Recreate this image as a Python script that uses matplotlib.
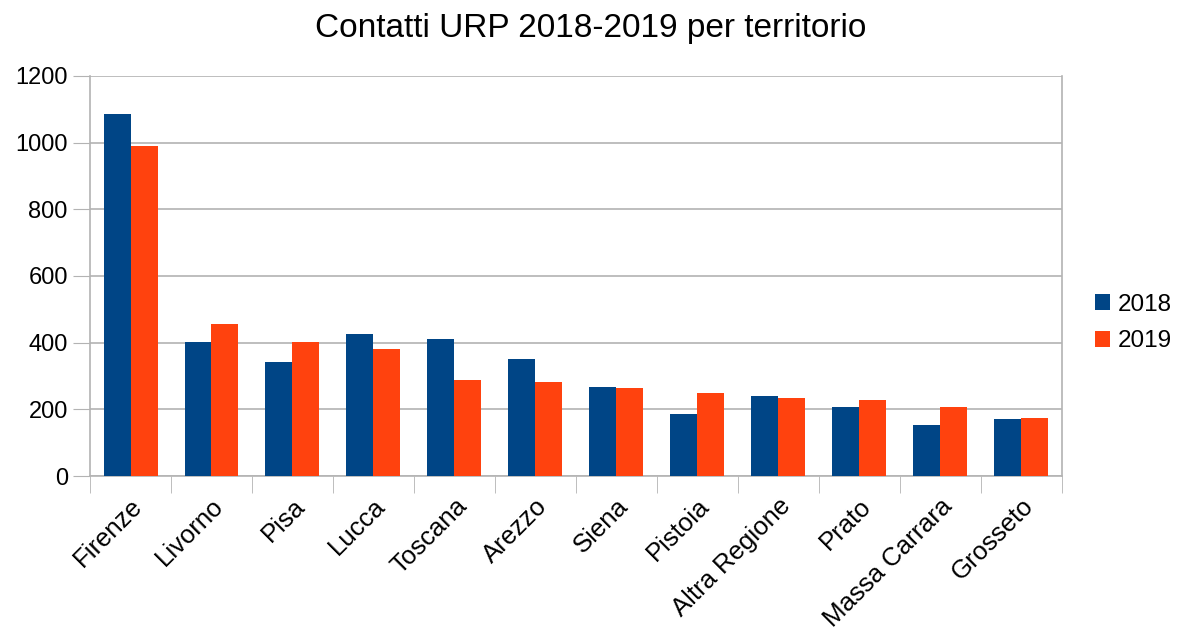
import numpy as np
import matplotlib
matplotlib.use("Agg")
import matplotlib.pyplot as plt

# Contatti per territorio, anni 2018 e 2019
territori = ["Firenze", "Livorno", "Pisa", "Lucca", "Toscana", "Arezzo", "Siena",
             "Pistoia", "Altra Regione", "Prato", "Massa Carrara", "Grosseto"]
contatti_2018 = [1085, 402, 342, 425, 411, 352, 266, 185, 240, 208, 152, 171]
contatti_2019 = [990, 457, 402, 380, 288, 281, 265, 250, 235, 228, 208, 175]
y_ticks = [0, 200, 400, 600, 800, 1000, 1200]

plt.rcParams['font.family'] = ['Liberation Sans', 'DejaVu Sans']

fig = plt.figure(figsize=(11.77, 6.32), dpi=100)
ax = fig.add_axes([0.0765, 0.2468, 0.8255, 0.6332])

x = np.arange(len(territori))
w = 1 / 3
ax.bar(x - w / 2, contatti_2018, w, color="#004586", label="2018", zorder=3)
ax.bar(x + w / 2, contatti_2019, w, color="#ff420e", label="2019", zorder=3)

ax.set_xlim(-0.5, len(territori) - 0.5)
ax.set_ylim(0, 1200)
ax.set_yticks(y_ticks)
ax.tick_params(axis="y", labelsize=17, length=12, color="#b3b3b3", pad=4)
ax.yaxis.grid(True, color="#b3b3b3", linewidth=1.2, zorder=0)

# category labels at the centres, tick marks at the boundaries
ax.set_xticks(x)
ax.set_xticklabels(territori, rotation=45, ha="right", rotation_mode="anchor", fontsize=18.5)
ax.tick_params(axis="x", length=0, pad=13)
ax.set_xticks(np.arange(-0.5, len(territori)), minor=True)
ax.tick_params(axis="x", which="minor", length=12, color="#b3b3b3")

for s in ax.spines.values():
    s.set_color("#b3b3b3")
    s.set_linewidth(1.2)
ax.spines["top"].set_visible(False)

fig.suptitle("Contatti URP 2018-2019 per territorio", fontsize=24, x=0.502, y=0.979)

ax.legend(loc="center left", bbox_to_anchor=(1.012, 0.382), frameon=False,
          fontsize=17.5, handlelength=0.62, handleheight=0.62, handletextpad=0.3,
          labelspacing=0.6)

fig.savefig("out.png", dpi=100)
